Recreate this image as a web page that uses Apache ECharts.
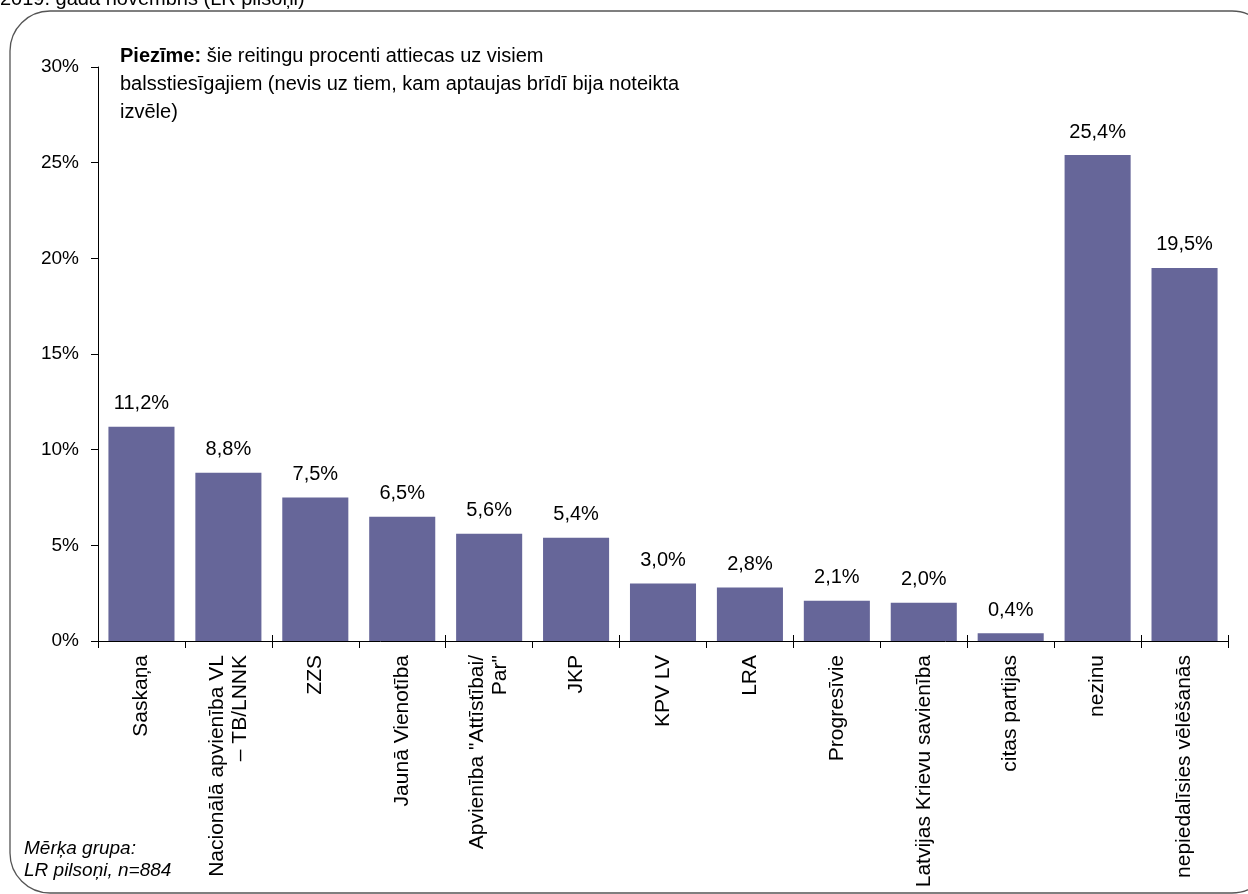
<!DOCTYPE html>
<html>
<head>
<meta charset="utf-8">
<script src="https://cdn.jsdelivr.net/npm/echarts@6/dist/echarts.min.js"></script>
<style>
html,body{margin:0;padding:0;background:#fff;}
#chart{width:1248px;height:894px;}
</style>
</head>
<body>
<div id="chart"></div>
<script>
const categories = [
  'Saskaņa',
  'Nacionālā apvienība VL\n– TB/LNNK',
  'ZZS',
  'Jaunā Vienotība',
  'Apvienība "Attīstībai/\nPar"',
  'JKP',
  'KPV LV',
  'LRA',
  'Progresīvie',
  'Latvijas Krievu savienība',
  'citas partijas',
  'nezinu',
  'nepiedalīsies vēlēšanās'
];
const values = [11.2, 8.8, 7.5, 6.5, 5.6, 5.4, 3.0, 2.8, 2.1, 2.0, 0.4, 25.4, 19.5];
const yTicks = [0, 5, 10, 15, 20, 25, 30];
const titleText = '2019. gada novembris (LR pilsoņi)';
const noteBold = 'Piezīme:';
const noteRest = ' šie reitingu procenti attiecas uz visiem';
const noteLines = ['balsstiesīgajiem (nevis uz tiem, kam aptaujas brīdī bija noteikta', 'izvēle)'];
const footLines = ['Mērķa grupa:', 'LR pilsoņi, n=884'];

const FONT = '"Liberation Sans", Arial, sans-serif';
const chart = echarts.init(document.getElementById('chart'), null, {renderer: 'canvas'});

chart.setOption({
  animation: false,
  backgroundColor: '#ffffff',
  textStyle: {fontFamily: FONT},
  grid: {left: 98, right: 20, top: 67, bottom: 253, containLabel: false, outerBoundsMode: 'none'},
  xAxis: [{
    type: 'category',
    data: categories,
    axisLine: {lineStyle: {color: '#000', width: 1}},
    axisTick: {show: true, alignWithLabel: false, length: 7, lineStyle: {color: '#000'}},
    axisLabel: {rotate: 90, interval: 0, margin: 14, color: '#000', fontSize: 21, fontFamily: FONT, lineHeight: 23}
  }, {
    type: 'category',
    data: categories,
    position: 'bottom',
    axisLine: {show: false},
    axisTick: {show: true, inside: true, length: 6, lineStyle: {color: '#000'}},
    axisLabel: {show: false}
  }],
  yAxis: {
    type: 'value',
    min: yTicks[0],
    max: yTicks[yTicks.length - 1],
    interval: 5,
    axisLine: {show: true, lineStyle: {color: '#000'}},
    axisTick: {show: true, length: 7, lineStyle: {color: '#000'}},
    splitLine: {show: false},
    axisLabel: {color: '#000', fontSize: 19, fontFamily: FONT, margin: 19, formatter: v => v + '%'}
  },
  series: [{
    type: 'bar',
    data: values,
    barCategoryGap: '24%',
    itemStyle: {color: '#666699'},
    label: {
      show: true,
      position: 'top',
      distance: 13,
      color: '#000',
      fontSize: 20,
      fontFamily: FONT,
      formatter: p => p.value.toFixed(1).replace('.', ',') + '%'
    }
  }],
  graphic: [
    {
      type: 'rect',
      shape: {x: 10, y: 11, width: 1262, height: 882, r: 40},
      style: {fill: 'none', stroke: '#555', lineWidth: 1.3},
      silent: true, z: -1
    },
    {
      type: 'text', left: 0, top: -11,
      style: {text: titleText, font: '20px ' + FONT, fill: '#000'}
    },
    {
      type: 'text', left: 120, top: 42,
      style: {
        text: '{b|' + noteBold + '}' + noteRest + '\n' + noteLines.join('\n'),
        fontFamily: FONT, fontSize: 20, lineHeight: 28, fill: '#000',
        rich: {b: {fontWeight: 'bold', fontSize: 20, fontFamily: FONT, lineHeight: 28, fill: '#000'}}
      }
    },
    {
      type: 'text', left: 24, top: 838,
      style: {text: footLines.join('\n'), font: 'italic 19px ' + FONT, lineHeight: 22, fill: '#000'}
    }
  ]
});
</script>
</body>
</html>
